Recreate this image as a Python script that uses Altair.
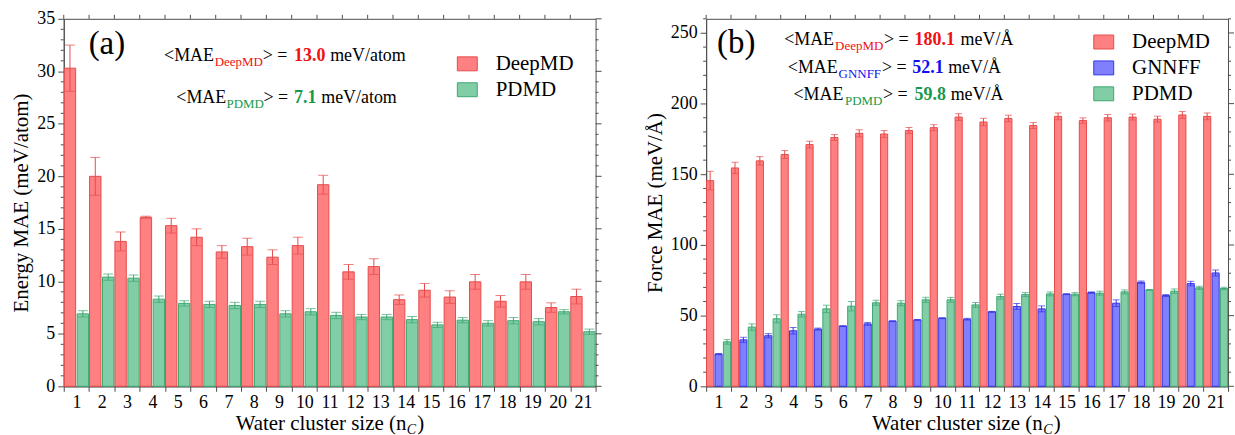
import altair as alt
import pandas as pd

SIZES = list(range(1, 22))

# Energy MAE (meV/atom)
E_DEEPMD = [30.3, 20.0, 13.8, 16.1, 15.3, 14.2, 12.8, 13.3, 12.3, 13.4, 19.2,
            10.9, 11.4, 8.25, 9.15, 8.5, 9.95, 8.1, 9.95, 7.5, 8.55]
E_DEEPMD_ERR = [2.2, 1.8, 0.9, 0.1, 0.7, 0.8, 0.6, 0.8, 0.7, 0.8, 0.9,
                0.7, 0.75, 0.45, 0.65, 0.6, 0.7, 0.55, 0.7, 0.45, 0.7]
E_PDMD = [6.9, 10.4, 10.3, 8.3, 7.9, 7.8, 7.7, 7.8, 6.9, 7.1, 6.75,
          6.6, 6.6, 6.35, 5.85, 6.3, 6.0, 6.25, 6.15, 7.1, 5.2]
E_PDMD_ERR = [0.3, 0.3, 0.3, 0.3, 0.25, 0.3, 0.3, 0.3, 0.3, 0.3, 0.3,
              0.25, 0.25, 0.3, 0.25, 0.25, 0.25, 0.3, 0.3, 0.2, 0.25]

# Force MAE (meV/Å)
F_DEEPMD = [145.5, 154.5, 159.5, 164.0, 171.0, 176.0, 179.0, 178.5, 181.0, 183.0, 190.5,
            187.0, 189.5, 184.5, 191.0, 188.0, 190.0, 190.5, 189.0, 192.0, 191.0]
F_DEEPMD_ERR = [6.6, 4.0, 3.0, 2.8, 2.4, 2.1, 2.5, 2.4, 2.1, 2.1, 2.4,
                2.6, 2.3, 2.1, 2.4, 1.9, 2.3, 2.1, 2.1, 2.4, 2.4]
F_GNNFF = [22.8, 32.9, 35.8, 39.3, 40.5, 42.6, 44.2, 46.1, 47.0, 48.2, 47.5,
           52.7, 56.5, 54.8, 65.2, 66.3, 58.8, 73.6, 64.2, 72.7, 80.2]
F_GNNFF_ERR = [0.4, 1.8, 1.5, 2.3, 0.7, 0.3, 1.0, 0.3, 0.3, 0.3, 0.6,
               0.3, 2.1, 2.1, 0.3, 0.5, 2.4, 0.9, 0.7, 1.6, 2.1]
F_PDMD = [31.5, 41.9, 47.8, 51.0, 54.8, 56.7, 59.1, 58.8, 61.2, 61.2, 57.6,
          63.5, 64.9, 65.4, 65.2, 65.9, 66.8, 68.2, 67.3, 69.7, 69.2]
F_PDMD_ERR = [1.7, 2.3, 2.8, 1.9, 2.6, 3.3, 1.8, 1.8, 1.8, 1.7, 1.7,
              1.7, 1.4, 1.4, 1.1, 1.4, 1.4, 0.3, 1.6, 1.1, 0.9]

FONT = "Liberation Serif"
AX = "#4d4d4d"
FILL = {"DeepMD": "#FF8080", "GNNFF": "#8080FF", "PDMD": "#80CDA6"}
EDGE = {"DeepMD": "#E64B4B", "GNNFF": "#3535E6", "PDMD": "#3DA872"}
TXT = {"DeepMD": "#F01010", "GNNFF": "#1010F0", "PDMD": "#17994B"}


def table(series):
    rows = []
    for name, vals, errs in series:
        for n, v, e in zip(SIZES, vals, errs):
            rows.append({"n": n, "model": name, "value": v, "lo": v - e, "hi": v + e})
    return pd.DataFrame(rows)


def txt(x, y, s, color="black", size=18, weight="normal", style="normal", align="left"):
    return alt.Chart(alt.Data(values=[{"k": 0}])).mark_text(
        text=s, font=FONT, fontSize=size, fontWeight=weight, fontStyle=style,
        color=color, align=align, baseline="alphabetic"
    ).encode(x=alt.value(x), y=alt.value(y))


def mae(xs, y, model, val, unit):
    x0, x1, x2, x3, x4 = xs
    c = TXT[model]
    return [
        txt(x0, y, "<MAE"),
        txt(x1, y + 5, model, c, 13),
        txt(x2, y, "> ="),
        txt(x3, y, val, c, 18, "bold"),
        txt(x4, y, unit),
    ]


def xtitle(cx, y):
    return [
        txt(cx + 78, y, "Water cluster size (n", size=21, align="right"),
        txt(cx + 78.5, y + 4, "C", size=14, style="italic"),
        txt(cx + 89, y, ")", size=21),
    ]


def panel(df, models, W, H, ymax, ystep, yminor, ytitle, pi, po, cap, legxy, extras):
    xs = alt.Scale(paddingInner=0, paddingOuter=0)
    ys = alt.Scale(domain=[0, ymax], nice=False)
    fill_scale = alt.Scale(domain=models, range=[FILL[m] for m in models])
    edge_scale = alt.Scale(domain=models, range=[EDGE[m] for m in models])
    xo = alt.XOffset("model:N", scale=alt.Scale(domain=models, paddingInner=pi, paddingOuter=po))
    leg = alt.Legend(
        title=None, orient="none", legendX=legxy[0], legendY=legxy[1],
        labelFont=FONT, labelFontSize=21, labelColor="black",
        symbolType="M-1,-0.7H1V0.7H-1Z", symbolSize=400, symbolStrokeWidth=1,
        labelOffset=18, rowPadding=4, padding=0)

    bars = alt.Chart(df).mark_bar(strokeWidth=1).encode(
        x=alt.X("n:O", scale=xs, title=None,
                axis=alt.Axis(labelAngle=0, tickBand="extent", tickSize=5, labelPadding=2)),
        xOffset=xo,
        y=alt.Y("value:Q", scale=ys, title=ytitle,
                axis=alt.Axis(values=list(range(0, ymax + 1, ystep)), tickSize=6,
                              labelPadding=3, titlePadding=5)),
        fill=alt.Fill("model:N", scale=fill_scale, legend=leg),
        stroke=alt.Stroke("model:N", scale=edge_scale, legend=leg),
    )
    ex = alt.X("n:O", scale=xs)
    rule = alt.Chart(df).mark_rule(strokeWidth=1).encode(
        x=ex, xOffset=xo,
        y=alt.Y("lo:Q", scale=ys), y2="hi:Q",
        stroke=alt.Stroke("model:N", scale=edge_scale, legend=None),
    )
    caps = [
        alt.Chart(df).mark_tick(size=cap, thickness=1).encode(
            x=ex, xOffset=xo,
            y=alt.Y(f"{f}:Q", scale=ys),
            color=alt.Color("model:N", scale=edge_scale, legend=None),
        )
        for f in ("hi", "lo")
    ]
    minor_vals = [v for v in range(0, ymax + 1, yminor) if v % ystep]
    major_vals = list(range(0, ymax + 1, ystep))
    mdf = pd.DataFrame({"t": minor_vals})
    Mdf = pd.DataFrame({"t": major_vals})
    ticks = [
        alt.Chart(mdf).mark_rule(color=AX).encode(
            y=alt.Y("t:Q", scale=ys), x=alt.value(-3), x2=alt.value(0)),
        alt.Chart(mdf).mark_rule(color=AX).encode(
            y=alt.Y("t:Q", scale=ys), x=alt.value(W), x2=alt.value(W + 3)),
        alt.Chart(Mdf).mark_rule(color=AX).encode(
            y=alt.Y("t:Q", scale=ys), x=alt.value(W), x2=alt.value(W + 6)),
        alt.Chart(pd.DataFrame({"n": SIZES})).mark_rule(color=AX).encode(
            x=alt.X("n:O", scale=xs, bandPosition=0),
            y=alt.value(-4), y2=alt.value(0)),
    ]
    return alt.layer(bars, rule, *caps, *ticks, *extras).properties(width=W, height=H)


df_e = table([("DeepMD", E_DEEPMD, E_DEEPMD_ERR), ("PDMD", E_PDMD, E_PDMD_ERR)])
df_f = table([("DeepMD", F_DEEPMD, F_DEEPMD_ERR), ("GNNFF", F_GNNFF, F_GNNFF_ERR),
              ("PDMD", F_PDMD, F_PDMD_ERR)])

extras_a = (
    [txt(25, 35.5, "(a)", size=33)]
    + mae((100.7, 151.5, 199.7, 231.3, 267.5), 42.5, "DeepMD", "13.0", "meV/atom")
    + mae((113, 163.5, 200.5, 231.3, 258.5), 84.5, "PDMD", "7.1", "meV/atom")
    + xtitle(266, 413)
)
extras_b = (
    [txt(11, 34, "(b)", size=33)]
    + mae((78.3, 129.5, 178.5, 209.3, 255.5), 26.3, "DeepMD", "180.1", "meV/Å")
    + mae((82, 133, 176.5, 207, 243), 54.7, "GNNFF", "52.1", "meV/Å")
    + mae((87.7, 139.5, 177.5, 209.3, 245.5), 81.3, "PDMD", "59.8", "meV/Å")
    + xtitle(260, 413)
)

pa = panel(df_e, ["DeepMD", "PDMD"], 534, 369, 35, 5, 1, "Energy MAE (meV/atom)",
           0.12, 0.04, 10, (394.7, 34.7), extras_a)
pb = panel(df_f, ["DeepMD", "GNNFF", "PDMD"], 524, 369, 260, 50, 10, "Force MAE (meV/Å)",
           0.15, 0.05, 7, (388.7, 12.8), extras_b)

chart = alt.hconcat(pa, pb, spacing=41).resolve_scale(
    fill="independent", stroke="independent", color="independent", xOffset="independent"
).resolve_legend(
    fill="independent", stroke="independent", color="independent"
).properties(
    padding={"left": 10, "top": 8, "right": 0, "bottom": 0}
).configure_axis(
    labelFont=FONT, titleFont=FONT, labelFontSize=18, titleFontSize=21,
    labelColor="black", titleColor="black", titleFontWeight="normal",
    domainColor=AX, tickColor=AX, grid=False,
).configure_view(stroke=AX, strokeWidth=1)

chart.save("out.html", embed_options={"renderer": "svg", "actions": False})
